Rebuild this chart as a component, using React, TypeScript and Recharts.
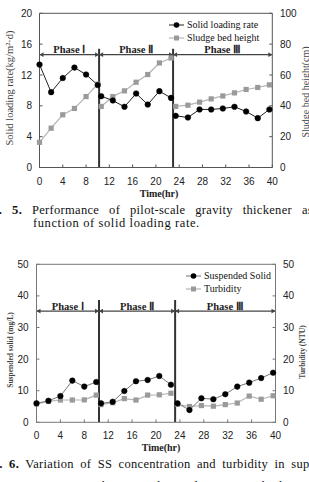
import React from 'react';
import { LineChart, Line, XAxis, YAxis, ReferenceLine, Legend } from 'recharts';

// ---- Fig. 5 : solid loading rate vs sludge bed height ----
const f5TimeI = [0, 2, 4, 6, 8, 10];
const f5TimeII = [10.6, 12.6, 14.6, 16.6, 18.6, 20.6, 22.6];
const f5TimeIII = [23.4, 25.5, 27.5, 29.5, 31.5, 33.5, 35.5, 37.5, 39.5];
const loadingI = [13.35, 9.77, 11.6, 12.96, 12.06, 10.7];
const loadingII = [9.25, 8.69, 7.87, 9.6, 8.17, 9.9, 9.03];
const loadingIII = [6.7, 6.49, 7.53, 7.53, 7.66, 7.87, 7.27, 6.4, 7.53];
const bedI = [16.3, 25.5, 34.2, 38.3, 46, 54];
const bedII = [39.6, 46, 49.7, 55.3, 60.3, 67.8, 71];
const bedIII = [39.6, 40.4, 42.4, 44.5, 46.4, 48.4, 50.6, 51.9, 53.6];
const f5Dividers = [10.24, 22.95];

// ---- Fig. 6 : suspended solid vs turbidity ----
const f6TimeI = [0, 2, 4, 6, 8, 10];
const f6TimeII = [10.8, 12.75, 14.7, 16.65, 18.6, 20.55, 22.5];
const f6TimeIII = [23.6, 25.6, 27.6, 29.6, 31.6, 33.6, 35.6, 37.6, 39.6];
const ssI = [6.0, 6.8, 8.3, 13.2, 11.3, 12.75];
const ssII = [6.0, 6.5, 9.9, 13.0, 13.4, 14.65, 11.9];
const ssIII = [6.0, 3.9, 7.6, 7.3, 8.9, 11.3, 12.55, 14.0, 15.7];
const turbI = [5.8, 6.6, 7.05, 7.05, 7.1, 8.6];
const turbII = [5.6, 6.2, 7.5, 7.05, 8.6, 8.7, 9.2];
const turbIII = [5.7, 5.0, 5.3, 5.1, 5.6, 6.1, 8.3, 7.3, 8.4];
const f6Dividers = [10.46, 23.2];

const timeTicks = [0, 4, 8, 12, 16, 20, 24, 28, 32, 36, 40];
const phaseNames = ['Phase\u00a0Ⅰ', 'Phase\u00a0Ⅱ', 'Phase\u00a0Ⅲ'];

const serif = '"Liberation Serif", "Times New Roman", serif';
const sans = '"Liberation Sans", Arial, sans-serif';

const rows = (t: number[], a: number[], b: number[]) =>
  t.map((x, i) => ({ t: x, a: a[i], b: b[i] }));

const SquareDot = (props: any) => {
  const { cx, cy, index } = props;
  if (cx == null || cy == null) return <g key={`sq-${index}`} />;
  return <rect key={`sq-${index}`} x={cx - 2.6} y={cy - 2.6} width={5.2} height={5.2} fill="#9a9a9a" />;
};

const ArrowShape = (props: any) => {
  const { x1, y1, x2, y2 } = props;
  const h = 4;
  const w = 2.4;
  return (
    <g>
      <line x1={x1} y1={y1} x2={x2} y2={y2} stroke="#444" strokeWidth={1.3} />
      <polygon points={`${x1},${y1} ${x1 + h},${y1 - w} ${x1 + h},${y1 + w}`} fill="#444" />
      <polygon points={`${x2},${y2} ${x2 - h},${y2 - w} ${x2 - h},${y2 + w}`} fill="#444" />
    </g>
  );
};

const LegendBox = ({ names, lineA }: { names: string[]; lineA: string }) => (
  <div style={{ fontFamily: serif, fontSize: 10, color: '#111', lineHeight: '12.5px', whiteSpace: 'nowrap' }}>
    <div style={{ display: 'flex', alignItems: 'center' }}>
      <svg width={15} height={8}>
        <line x1={0} y1={4} x2={15} y2={4} stroke={lineA} strokeWidth={1} />
        <circle cx={7.5} cy={4} r={2.8} fill="#000" />
      </svg>
      <span style={{ marginLeft: 3 }}>{names[0]}</span>
    </div>
    <div style={{ display: 'flex', alignItems: 'center' }}>
      <svg width={15} height={8}>
        <line x1={0} y1={4} x2={15} y2={4} stroke="#b5b5b5" strokeWidth={1.2} />
        <rect x={5} y={1.5} width={5} height={5} fill="#9a9a9a" />
      </svg>
      <span style={{ marginLeft: 3 }}>{names[1]}</span>
    </div>
  </div>
);

type ChartProps = {
  top: number;
  marginTop: number;
  xAxisH: number;
  leftW: number;
  rightW: number;
  xTickMargin: number;
  leftTickMargin: number;
  rightTickMargin: number;
  leftMax: number;
  leftTicks: number[];
  rightMax: number;
  rightTicks: number[];
  phases: { t: number; a: number; b: number }[][];
  dividers: number[];
  dividerTop: number;
  arrowY: number;
  frame: string;
  lineA: string;
  names: string[];
  legendPos: { top: number; left: number };
};

const PhaseChart = (p: ChartProps) => {
  const tick = { fill: '#222', fontSize: 10, fontFamily: sans };
  const bounds = [0, ...p.dividers, 40];
  return (
    <div style={{ position: 'absolute', top: p.top, left: 0 }}>
      <LineChart width={309} height={200} margin={{ top: p.marginTop, right: 0, bottom: 0, left: 0 }}>
        <XAxis
          type="number"
          dataKey="t"
          domain={[0, 40]}
          ticks={timeTicks}
          interval={0}
          height={p.xAxisH}
          tickSize={-3}
          tickMargin={p.xTickMargin}
          tick={tick}
          axisLine={{ stroke: p.frame }}
          tickLine={{ stroke: p.frame }}
        />
        <YAxis
          yAxisId="l"
          domain={[0, p.leftMax]}
          ticks={p.leftTicks}
          interval={0}
          width={p.leftW}
          tickSize={-3}
          tickMargin={p.leftTickMargin}
          tick={tick}
          axisLine={{ stroke: p.frame }}
          tickLine={{ stroke: p.frame }}
        />
        <YAxis
          yAxisId="r"
          orientation="right"
          domain={[0, p.rightMax]}
          ticks={p.rightTicks}
          interval={0}
          width={p.rightW}
          tickSize={-3}
          tickMargin={p.rightTickMargin}
          tick={{ ...tick, textAnchor: 'start' }}
          axisLine={{ stroke: p.frame }}
          tickLine={{ stroke: p.frame }}
        />
        <ReferenceLine yAxisId="l" y={p.leftMax} stroke={p.frame} />
        {p.phases.map((d, i) => (
          <Line
            key={`b${i}`}
            yAxisId="r"
            data={d}
            dataKey="b"
            stroke="#b5b5b5"
            strokeWidth={1.2}
            dot={SquareDot}
            activeDot={false}
            isAnimationActive={false}
            legendType="none"
          />
        ))}
        {p.phases.map((d, i) => (
          <Line
            key={`a${i}`}
            yAxisId="l"
            data={d}
            dataKey="a"
            stroke={p.lineA}
            strokeWidth={1}
            dot={{ r: 2.8, fill: '#000', stroke: '#000', strokeWidth: 0.5 }}
            activeDot={false}
            isAnimationActive={false}
            legendType="none"
          />
        ))}
        {p.dividers.map((x) => (
          <ReferenceLine
            key={`d${x}`}
            yAxisId="l"
            segment={[{ x, y: 0 }, { x, y: p.dividerTop }]}
            stroke="#333"
            strokeWidth={2}
          />
        ))}
        {phaseNames.map((name, i) => (
          <ReferenceLine
            key={name}
            yAxisId="l"
            segment={[{ x: bounds[i], y: p.arrowY }, { x: bounds[i + 1], y: p.arrowY }]}
            shape={ArrowShape}
            label={{ value: name, position: 'top', offset: 1.5, fill: '#222', fontSize: 10.5, fontFamily: serif, fontWeight: 'bold' }}
          />
        ))}
        <Legend
          layout="vertical"
          verticalAlign="middle"
          align="center"
          wrapperStyle={{ top: p.legendPos.top, left: p.legendPos.left, width: 'auto' }}
          content={() => <LegendBox names={p.names} lineA={p.lineA} />}
        />
      </LineChart>
    </div>
  );
};

const Abs = ({ x, y, rot, style, children }: any) => (
  <div
    style={{
      position: 'absolute',
      left: x,
      top: y,
      transform: `translate(-50%, -50%)${rot ? ' rotate(-90deg)' : ''}`,
      whiteSpace: 'nowrap',
      ...style,
    }}
  >
    {children}
  </div>
);

const captionStyle: React.CSSProperties = {
  position: 'absolute',
  whiteSpace: 'nowrap',
  fontFamily: serif,
  fontSize: 12.5,
  lineHeight: '14px',
  color: '#111',
};

export default function App() {
  const fig5 = [rows(f5TimeI, loadingI, bedI), rows(f5TimeII, loadingII, bedII), rows(f5TimeIII, loadingIII, bedIII)];
  const fig6 = [rows(f6TimeI, ssI, turbI), rows(f6TimeII, ssII, turbII), rows(f6TimeIII, ssIII, turbIII)];
  const title = { fontFamily: serif, color: '#444' };
  return (
    <div style={{ position: 'fixed', left: 0, top: 0, width: 309, height: 482, overflow: 'hidden', background: '#fff' }}>
      <PhaseChart
        top={0}
        marginTop={13.3}
        xAxisH={32.5}
        leftW={39.5}
        rightW={36.7}
        xTickMargin={13}
        leftTickMargin={10.5}
        rightTickMargin={10.7}
        leftMax={20}
        leftTicks={[0, 4, 8, 12, 16, 20]}
        rightMax={100}
        rightTicks={[0, 20, 40, 60, 80, 100]}
        phases={fig5}
        dividers={f5Dividers}
        dividerTop={15.4}
        arrowY={14.64}
        frame="#555"
        lineA="#222"
        names={['Solid loading rate', 'Sludge bed height']}
        legendPos={{ top: 19, left: 169 }}
      />
      <Abs x={8.5} y={87.5} rot style={{ ...title, fontSize: 10.5 }}>Solid loading rate(kg/m²·d)</Abs>
      <Abs x={304.5} y={92} rot style={{ ...title, fontSize: 10 }}>Sludge bed height(cm)</Abs>
      <Abs x={159} y={193} style={{ fontFamily: serif, fontSize: 10, fontWeight: 'bold', color: '#222' }}>Time(hr)</Abs>

      <div style={{ ...captionStyle, top: 203, left: -19.5, letterSpacing: 0.3, wordSpacing: 6.5 }}>
        <b>Fig. 5.</b> Performance of pilot-scale gravity thickener as a
      </div>
      <div style={{ ...captionStyle, top: 216, left: 33, letterSpacing: 0.6 }}>function of solid loading rate.</div>

      <PhaseChart
        top={250}
        marginTop={14.3}
        xAxisH={27.7}
        leftW={36.5}
        rightW={33.5}
        xTickMargin={12.2}
        leftTickMargin={11}
        rightTickMargin={10.5}
        leftMax={50}
        leftTicks={[0, 10, 20, 30, 40, 50]}
        rightMax={50}
        rightTicks={[0, 10, 20, 30, 40, 50]}
        phases={fig6}
        dividers={f6Dividers}
        dividerTop={38.7}
        arrowY={35.2}
        frame="#777"
        lineA="#777"
        names={['Suspended Solid', 'Turbidity']}
        legendPos={{ top: 20, left: 186 }}
      />
      <Abs x={10} y={350} rot style={{ ...title, fontSize: 7.5, fontWeight: 'bold' }}>Suspended solid (mg/L)</Abs>
      <Abs x={301.5} y={352} rot style={{ ...title, fontSize: 7.5, fontWeight: 'bold' }}>Turbidity (NTU)</Abs>
      <Abs x={161} y={447} style={{ fontFamily: serif, fontSize: 10, fontWeight: 'bold', color: '#222' }}>Time(hr)</Abs>

      <div style={{ ...captionStyle, top: 457, left: -19, letterSpacing: 0.3, wordSpacing: 3 }}>
        <b>Fig. 6.</b> Variation of SS concentration and turbidity in supernatant
      </div>
      <div style={{ ...captionStyle, top: 479, left: 33, letterSpacing: 0.6, wordSpacing: 3 }}>
        pernatant taken in pilot-scale gravity thickener.
      </div>
    </div>
  );
}
